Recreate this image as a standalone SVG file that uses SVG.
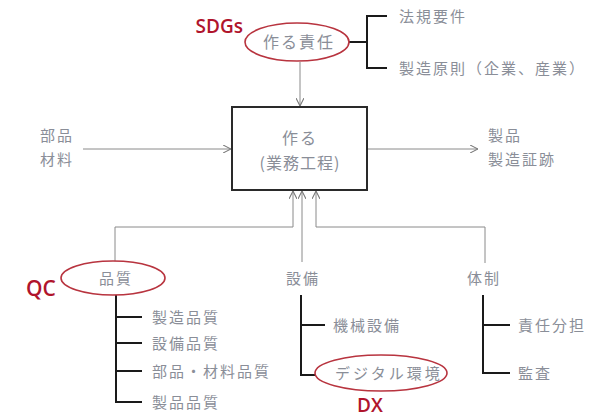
<svg xmlns="http://www.w3.org/2000/svg" width="589" height="417" viewBox="0 0 589 417">
<style>
.t{font-family:"Noto Sans CJK JP","Noto Sans",sans-serif;font-size:15px;fill:#8a8e98;letter-spacing:2px}
.c{text-anchor:middle}
.lbl{font-family:"Open Sans","Liberation Sans",sans-serif;font-weight:600;fill:#b0142c}
.ln{fill:none;stroke:#8a8a8a;stroke-width:1}
.br{fill:none;stroke:#1a1a1a;stroke-width:2}
.el{fill:none;stroke:#b8343f;stroke-width:1.6}
</style>
<defs>
<marker id="ah" viewBox="0 0 10 10" refX="10" refY="5" markerWidth="8" markerHeight="8" markerUnits="userSpaceOnUse" orient="auto">
<polyline points="0,0 10,5 0,10" fill="none" stroke="#777" stroke-width="1.3"/>
</marker>
</defs>
<g id="connectors">
<line class="ln" x1="300" y1="62" x2="300" y2="106" marker-end="url(#ah)"/>
<line class="ln" x1="83" y1="149" x2="231" y2="149" marker-end="url(#ah)"/>
<line class="ln" x1="367" y1="149" x2="478" y2="149" marker-end="url(#ah)"/>
<polyline class="ln" points="115,261 115,227 293,227 293,191" marker-end="url(#ah)"/>
<line class="ln" x1="302" y1="262" x2="302" y2="191" marker-end="url(#ah)"/>
<polyline class="ln" points="485,263 485,227 316,227 316,191" marker-end="url(#ah)"/>
<polyline class="br" points="349,42 367,42"/>
<polyline class="br" points="387,16 367,16 367,68 387,68"/>
<polyline class="br" points="116,295 116,402 142,402"/>
<line class="br" x1="116" y1="317" x2="142" y2="317"/>
<line class="br" x1="116" y1="343" x2="142" y2="343"/>
<line class="br" x1="116" y1="371" x2="142" y2="371"/>
<polyline class="br" points="301,295 301,375 315,375"/>
<line class="br" x1="301" y1="325" x2="325" y2="325"/>
<polyline class="br" points="483,295 483,373 510,373"/>
<line class="br" x1="483" y1="325" x2="510" y2="325"/>
</g>
<g id="process">
<rect x="232" y="107" width="135" height="83" fill="#fff" stroke="#2a2a2a" stroke-width="2"/>
<text class="t c" x="300" y="144" style="font-size:16px">作る</text>
<text class="t c" x="300" y="169" style="font-size:16px;letter-spacing:1px">(業務工程)</text>
</g>
<g id="responsibility">
<ellipse class="el" cx="297" cy="42" rx="52" ry="19"/>
<text class="t c" x="299" y="48" style="font-size:16px">作る責任</text>
<text class="lbl" x="243" y="33" text-anchor="end" font-size="19">SDGs</text>
</g>
<g id="reqs">
<text class="t" x="399" y="22">法規要件</text>
<text class="t" x="399" y="74">製造原則（企業、産業）</text>
</g>
<g id="input">
<text class="t" x="40" y="141">部品</text>
<text class="t" x="40" y="165">材料</text>
</g>
<g id="output">
<text class="t" x="488" y="141">製品</text>
<text class="t" x="488" y="165">製造証跡</text>
</g>
<g id="quality">
<ellipse class="el" cx="113" cy="278" rx="52" ry="17"/>
<text class="t c" x="116" y="284">品質</text>
<text class="lbl" x="26" y="296" font-size="21">QC</text>
<text class="t" x="152" y="323">製造品質</text>
<text class="t" x="152" y="349">設備品質</text>
<text class="t" x="152" y="377">部品・材料品質</text>
<text class="t" x="152" y="408">製品品質</text>
</g>
<g id="equipment">
<text class="t c" x="303" y="284">設備</text>
<text class="t" x="333" y="331">機械設備</text>
<ellipse class="el" cx="381" cy="373" rx="66" ry="18"/>
<text class="t" x="335" y="379" style="letter-spacing:3px">デジタル環境</text>
<text class="lbl" x="370" y="412" text-anchor="middle" font-size="19">DX</text>
</g>
<g id="organization">
<text class="t c" x="484" y="284">体制</text>
<text class="t" x="518" y="331">責任分担</text>
<text class="t" x="518" y="379">監査</text>
</g>
</svg>
